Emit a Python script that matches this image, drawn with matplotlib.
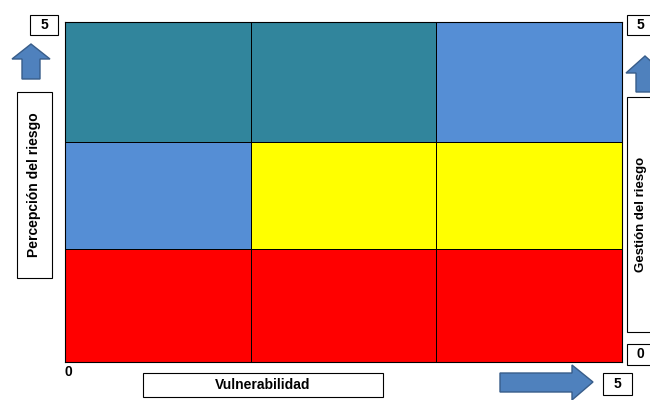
import matplotlib.pyplot as plt
import matplotlib.patches as mpatches
import numpy as np
from matplotlib.colors import ListedColormap

# grid data
col_edges = [0, 5 / 3, 10 / 3, 5]
row_edges = [0, 1.66, 3.24, 5]
# 0 = red, 1 = yellow, 2 = blue, 3 = teal (rows bottom -> top)
cells = [
    [0, 0, 0],
    [2, 1, 1],
    [3, 3, 2],
]
cell_colors = ["#FF0000", "#FFFF00", "#558ED5", "#31859C"]

x_title = "Vulnerabilidad"
y_title = "Percepción del riesgo"
y2_title = "Gestión del riesgo"

fig = plt.figure(figsize=(6.5, 4), dpi=100)
plt.rcParams["font.family"] = ["Liberation Sans", "DejaVu Sans"]

ax = fig.add_axes([65 / 650, 38 / 400, 557 / 650, 340 / 400])
ax.pcolormesh(col_edges, row_edges, np.array(cells), cmap=ListedColormap(cell_colors),
              vmin=-0.5, vmax=3.5, edgecolor="black", linewidth=0.6)
ax.set_xlim(0, 5)
ax.set_ylim(0, 5)
ax.set_xticks([])
ax.set_yticks([])
for s in ax.spines.values():
    s.set_linewidth(0.8)

# overlay in pixel coordinates for the labels and arrows
ov = fig.add_axes([0, 0, 1, 1], zorder=-1)
ov.set_xlim(0, 650)
ov.set_ylim(400, 0)
ov.axis("off")


def box(x0, y0, x1, y1, text, rot=0, size=10, tx=None):
    ov.add_patch(mpatches.Rectangle((x0, y0), x1 - x0, y1 - y0, facecolor="white",
                                    edgecolor="black", linewidth=0.8, clip_on=False))
    if text:
        cx = (x0 + x1) / 2 if tx is None else tx
        ov.text(cx, (y0 + y1) / 2, text, rotation=rot, ha="center", va="center",
                fontsize=size, fontweight="bold")


arrow_face = "#4F81BD"
arrow_edge = "#385D8A"

# left side
box(30, 15, 58, 35, "5")
ov.add_patch(mpatches.Polygon([(12, 59), (31, 44), (50, 59), (40, 59), (40, 79), (22, 79), (22, 59)],
                              facecolor=arrow_face, edgecolor=arrow_edge, linewidth=1))
box(17, 92, 52, 278, y_title, rot=90, size=10)

# right side
box(627, 15, 660, 35, "5", tx=640)
ov.add_patch(mpatches.Polygon([(626, 73), (645, 56), (664, 73), (654, 73), (654, 92), (636, 92), (636, 73)],
                              facecolor=arrow_face, edgecolor=arrow_edge, linewidth=1, clip_on=True))
box(627, 97, 665, 332, y2_title, rot=90, size=9.5, tx=641)
box(627, 344, 660, 365, "0", tx=640)

# bottom
ov.text(68, 372, "0", ha="center", va="center", fontsize=10, fontweight="bold")
box(143, 373, 383, 397, x_title, size=10)
ov.add_patch(mpatches.Polygon([(500, 373), (572, 373), (572, 365), (593, 382), (572, 400), (572, 392), (500, 392)],
                              facecolor=arrow_face, edgecolor=arrow_edge, linewidth=1))
box(603, 373, 632, 395, "5")

fig.savefig("out.png", dpi=100)
